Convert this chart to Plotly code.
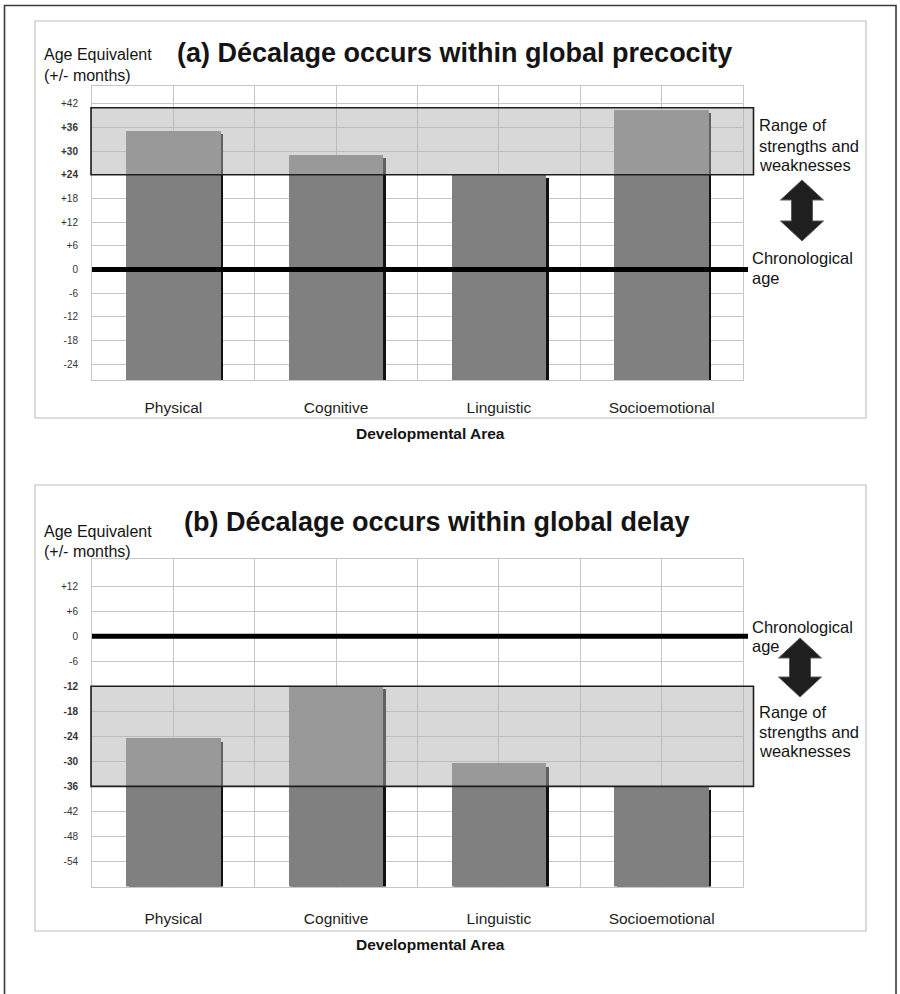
import plotly.graph_objects as go

# ---- data -------------------------------------------------------------
categories = ["Physical", "Cognitive", "Linguistic", "Socioemotional"]

# age equivalent, in +/- months relative to chronological age
precocity_months = [35, 29, 24, 40.5]
delay_months = [-24.5, -12, -30.5, -36]

# band spanned by the child's strengths and weaknesses
precocity_band = [24, 41]
delay_band = [-36, -12]

precocity_ticks = [-24, -18, -12, -6, 0, 6, 12, 18, 24, 30, 36, 42]
delay_ticks = [-54, -48, -42, -36, -30, -24, -18, -12, -6, 0, 6, 12]

precocity_axis = [-28, 46.5]
delay_axis = [-60, 18.5]

titles = [
    "(a) Décalage occurs within global precocity",
    "(b) Décalage occurs within global delay",
]

# ---- page geometry (pixels) ------------------------------------------
W, H = 900, 994
FONT = "Liberation Sans, Arial, Helvetica, sans-serif"
GRID = "#c6c6c6"
BAR = "#808080"
BAR_W = 0.58
PLOT_L, PLOT_R = 92, 743


def px(x):
    return x / W


def py(y):
    return 1 - y / H


def tick_text(ticks, band):
    out = []
    for t in ticks:
        s = f"+{t}" if t > 0 else str(t)
        if band[0] <= t <= band[1]:
            s = f"<b>{s}</b>"
        out.append(s)
    return out


panels = [
    dict(values=precocity_months, band=precocity_band, ticks=precocity_ticks,
         yrange=precocity_axis, top=86, bottom=380, frame=(21, 418),
         title_xy=(175, 53), age_y=(55, 75), xlab_y=433,
         chrono_y=(258, 277.5), range_y=(125, 145.5, 165.5),
         arrow=(802, 180, 241)),
    dict(values=delay_months, band=delay_band, ticks=delay_ticks,
         yrange=delay_axis, top=559, bottom=886.5, frame=(485, 931),
         title_xy=(182, 521.5), age_y=(531.5, 551.5), xlab_y=944,
         chrono_y=(627, 646), range_y=(711.5, 731.5, 751),
         arrow=(800, 638, 697)),
]

x_idx = list(range(len(categories)))
fig = go.Figure()
shapes = []
annotations = []

# outer page frame
shapes.append(dict(type="rect", xref="paper", yref="paper",
                   x0=px(4.5), x1=px(896), y0=py(1010), y1=py(5.5),
                   line=dict(color="#3a3a3a", width=1.6), layer="below"))


def double_arrow(cx, top, bottom, head_w=43, head_h=20, shaft_w=21):
    pts = [(cx, top), (cx + head_w / 2, top + head_h), (cx + shaft_w / 2, top + head_h),
           (cx + shaft_w / 2, bottom - head_h), (cx + head_w / 2, bottom - head_h),
           (cx, bottom), (cx - head_w / 2, bottom - head_h),
           (cx - shaft_w / 2, bottom - head_h), (cx - shaft_w / 2, top + head_h),
           (cx - head_w / 2, top + head_h)]
    return "M " + " L ".join(f"{px(x):.5f},{py(y):.5f}" for x, y in pts) + " Z"


for i, p in enumerate(panels):
    n = "" if i == 0 else str(i + 1)
    xa, ya = "x" + n, "y" + n
    base = p["yrange"][0]
    vals = p["values"]

    # drop shadow behind each bar (thin dark strip on its right side)
    fig.add_trace(go.Bar(
        x=x_idx, y=[v - base - 0.75 for v in vals], base=base,
        width=BAR_W, offset=-BAR_W / 2 + 0.015,
        marker=dict(color="#111111", line=dict(width=0)),
        xaxis=xa, yaxis=ya, hoverinfo="skip", showlegend=False))
    fig.add_trace(go.Bar(
        x=x_idx, y=[v - base for v in vals], base=base,
        width=BAR_W, offset=-BAR_W / 2,
        marker=dict(color=BAR, line=dict(width=0)),
        xaxis=xa, yaxis=ya, showlegend=False,
        customdata=categories, hovertemplate="%{customdata}: %{y}<extra></extra>"))

    xdom = [px(PLOT_L), px(PLOT_R)]
    ydom = [py(p["bottom"]), py(p["top"])]
    fig.layout["xaxis" + n] = dict(
        domain=xdom, range=[-0.5, 3.5], anchor=ya,
        tickvals=x_idx, ticktext=categories, ticks="",
        ticklabelstandoff=13 if i == 0 else 18,
        tickfont=dict(family=FONT, size=15.5, color="#1e1e1e"),
        showgrid=True, gridcolor=GRID, gridwidth=1,
        minor=dict(tickvals=[0.5, 1.5, 2.5], showgrid=True, gridcolor=GRID, gridwidth=1),
        showline=True, mirror=True, linecolor=GRID, linewidth=1,
        zeroline=False, fixedrange=True)
    fig.layout["yaxis" + n] = dict(
        domain=ydom, range=p["yrange"], anchor=xa,
        tickvals=p["ticks"], ticktext=tick_text(p["ticks"], p["band"]),
        ticks="", ticklabelstandoff=11,
        tickfont=dict(family=FONT, size=10, color="#333333"),
        showgrid=True, gridcolor=GRID, gridwidth=1,
        showline=True, mirror=True, linecolor=GRID, linewidth=1,
        zeroline=False, fixedrange=True)

    # translucent band of strengths and weaknesses, laid over the bars;
    # it reaches a little past the plot edges, so x is given on the page
    shapes.append(dict(type="rect", xref="paper", yref=ya,
                       x0=px(PLOT_L - 1), x1=px(PLOT_R + 10.5),
                       y0=p["band"][0], y1=p["band"][1],
                       fillcolor="rgba(178,178,178,0.5)",
                       line=dict(color="#1e1e1e", width=1.6), layer="above"))
    # chronological age line
    shapes.append(dict(type="line", xref="paper", yref=ya,
                       x0=px(PLOT_L), x1=px(PLOT_R + 5), y0=0, y1=0,
                       line=dict(color="#000000", width=5), layer="above"))
    # panel frame
    shapes.append(dict(type="rect", xref="paper", yref="paper",
                       x0=px(35), x1=px(866), y0=py(p["frame"][1]), y1=py(p["frame"][0]),
                       line=dict(color="#d2d2d2", width=1.6), layer="below"))
    # double-headed arrow between age line and band
    cx, at, ab = p["arrow"]
    shapes.append(dict(type="path", xref="paper", yref="paper",
                       path=double_arrow(cx, at, ab),
                       fillcolor="#1f1f1f", line=dict(color="#5a5a5a", width=1)))

    def note(text, x, y, size=16.5, bold=False, anchor="left"):
        annotations.append(dict(
            text=f"<b>{text}</b>" if bold else text, xref="paper", yref="paper",
            x=px(x), y=py(y), xanchor=anchor, yanchor="middle", showarrow=False,
            font=dict(family=FONT, size=size, color="#141414")))

    note(titles[i], p["title_xy"][0], p["title_xy"][1], size=27, bold=True)
    note("Age Equivalent", 42, p["age_y"][0], size=16)
    note("(+/- months)", 42, p["age_y"][1], size=16)
    note("Developmental Area", 430, p["xlab_y"], size=15.5, bold=True, anchor="center")
    note("Chronological", 750, p["chrono_y"][0])
    note("age", 750, p["chrono_y"][1])
    for line, yy in zip(["Range of", "strengths and", "weaknesses"], p["range_y"]):
        note(line, 757, yy)

fig.update_layout(
    width=W, height=H, margin=dict(l=0, r=0, t=0, b=0),
    paper_bgcolor="white", plot_bgcolor="white",
    barmode="overlay", bargap=0, showlegend=False,
    shapes=shapes, annotations=annotations,
    font=dict(family=FONT),
)

fig.write_html("out.html", config={"displayModeBar": False})
